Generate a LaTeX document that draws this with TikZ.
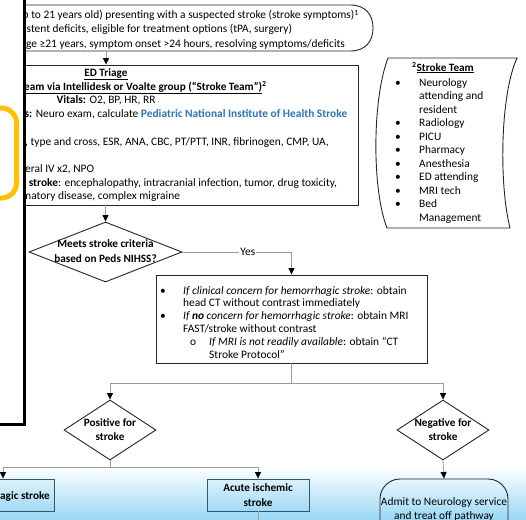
\documentclass[tikz,border=0pt]{standalone}
\usepackage{fontspec}
\setmainfont{Carlito}
\usetikzlibrary{arrows.meta,shapes.geometric,calc}

\definecolor{connector}{HTML}{9C9C9C}
\definecolor{edge}{HTML}{262626}
\definecolor{linkblue}{HTML}{2E75B6}
\definecolor{flagyellow}{HTML}{FFC000}
\definecolor{bandtop}{HTML}{FFFFFF}
\definecolor{bandbottom}{HTML}{9CD8F4}
\definecolor{outcomeedge}{HTML}{2B5A6E}
\definecolor{outcometop}{HTML}{DCF1FB}
\definecolor{outcomebottom}{HTML}{A3DAF4}

\begin{document}
\begin{tikzpicture}[x=1pt,y=-1pt,
  body/.style={inner sep=0pt, font=\fontsize{11.4}{13.7}\selectfont},
  bodybold/.style={body, font=\fontsize{11.2}{13.7}\selectfont\bfseries},
  procbox/.style={draw=edge, line width=0.9pt, fill=white, rectangle, inner sep=0pt},
  decision/.style={draw=edge, line width=0.9pt, fill=white, diamond, inner sep=0pt},
  outcome/.style={draw=outcomeedge, line width=0.9pt, rectangle, inner sep=0pt,
    top color=outcometop, bottom color=outcomebottom, align=center,
    font=\fontsize{11.2}{14.5}\selectfont\bfseries},
  link/.style={draw=connector, line width=0.8pt},
  arr/.style={link, -{Triangle[length=6.5pt,width=6pt,color=black]}},
]
\useasboundingbox (0,0) rectangle (526,519);

% light blue band along the bottom
\fill[top color=bandtop, bottom color=bandbottom] (0,466) rectangle (526,519);

% entry terminator (patient criteria)
\draw[edge, line width=0.9pt, fill=white]
  (-10,5) -- (350,5) .. controls (366,5) and (373,15) .. (373,28)
  .. controls (373,41) and (366,51) .. (350,51) -- (-10,51);
\coordinate (entryout) at (106,51);
\node[body, anchor=base west] (entry1) at (22.5,19)
  {p to 21 years old) presenting with a suspected stroke (stroke symptoms)\textsuperscript{1}};
\node[body, anchor=base west] (entry2) at (26.5,33)
  {stent deficits, eligible for treatment options (tPA, surgery)};
\node[body, anchor=base west] (entry3) at (26,47)
  {ge ≥21 years, symptom onset >24 hours, resolving symptoms/deficits};

% ED triage box
\node[procbox, minimum width=368pt, minimum height=140pt] (triage) at (174,135) {};
\node[bodybold, anchor=base] (tri1) at (106,76) {\underline{ED Triage}};
\node[bodybold, anchor=base west] (tri2) at (24,90)
  {\underline{eam via Intellidesk or Voalte group (“Stroke Team”)}\textsuperscript{2}};
\node[body, anchor=base] (tri3) at (106,103.5) {\textbf{Vitals:} O2, BP, HR, RR};
\node[body, anchor=base west] (tri4) at (24.5,117.5)
  {\textbf{s:} Neuro exam, calculate \textcolor{linkblue}{\textbf{Pediatric National Institute of Health Stroke}}};
\node[body, anchor=base west] (tri5) at (25,145)
  {, type and cross, ESR, ANA, CBC, PT/PTT, INR, fibrinogen, CMP, UA,};
\node[body, anchor=base west] (tri6) at (25,172) {eral IV x2, NPO};
\node[body, anchor=base west] (tri7) at (26,186)
  {\textbf{ stroke}: encephalopathy, intracranial infection, tumor, drug toxicity,};
\node[body, anchor=base west] (tri8) at (22,199.5) {matory disease, complex migraine};

% stroke criteria decision
\node[decision, minimum width=153pt, minimum height=60pt] (crit) at (105.5,252) {};
\node[bodybold, align=center, font=\fontsize{11.2}{14.5}\selectfont\bfseries] (crittext) at (105.5,251)
  {Meets stroke criteria\\based on Peds NIHSS?};

% imaging instructions
\node[procbox, minimum width=271pt, minimum height=88pt] (imaging) at (291.5,319) {};
\node[body, anchor=base west, align=left, font=\fontsize{11.4}{12.8}\selectfont] (imgtext) at (160,358)
  {\makebox[23pt][l]{\textbullet}\textit{If clinical concern for hemorrhagic stroke}: obtain\\
   \hspace*{23pt}head CT without contrast immediately\\
   \makebox[23pt][l]{\textbullet}\textit{If \textbf{no} concern for hemorrhagic stroke}: obtain MRI\\
   \hspace*{23pt}FAST/stroke without contrast\\
   \hspace*{30pt}\makebox[19pt][l]{o}\textit{If MRI is not readily available}: obtain “CT\\
   \hspace*{49pt}Stroke Protocol”};

% result decisions
\node[decision, minimum width=92pt, minimum height=60pt] (pos) at (110,430) {};
\node[bodybold, align=center, font=\fontsize{11.2}{14}\selectfont\bfseries] (postext) at (110,430)
  {Positive for\\stroke};
\node[decision, minimum width=92pt, minimum height=60pt] (neg) at (443,430) {};
\node[bodybold, align=center, font=\fontsize{11.2}{14}\selectfont\bfseries] (negtext) at (443,430)
  {Negative for\\stroke};

% outcomes
\node[outcome, minimum width=102pt, minimum height=32pt] (hem) at (3,495) {};
\node[bodybold, anchor=base east] (hemtext) at (50,499) {agic stroke};
\node[outcome, minimum width=102pt, minimum height=32pt] (acute) at (258,495)
  {Acute ischemic\\stroke};
\node[draw=edge, line width=0.9pt, rectangle, rounded corners=20pt,
  minimum width=128pt, minimum height=62pt, inner sep=0pt] (admit) at (444,510) {};
\node[body, align=center, font=\fontsize{11.4}{14}\selectfont] (admittext) at (444,509)
  {Admit to Neurology service\\and treat off pathway};

% stroke team (stored-data shape)
\draw[edge, line width=0.9pt, fill=white]
  (388,58) -- (517,58) .. controls (500,95) and (499,185) .. (510,228)
  -- (387,228) .. controls (372,190) and (372,100) .. (388,58) -- cycle;
\node[bodybold, anchor=base] (teamtitle) at (443,71)
  {\textsuperscript{2}\underline{Stroke Team}};
\node[body, anchor=base west, align=left, font=\fontsize{11.4}{13.5}\selectfont] (teamlist) at (395,221)
  {\makebox[24pt][l]{\textbullet}Neurology\\
   \hspace*{24pt}attending and\\
   \hspace*{24pt}resident\\
   \makebox[24pt][l]{\textbullet}Radiology\\
   \makebox[24pt][l]{\textbullet}PICU\\
   \makebox[24pt][l]{\textbullet}Pharmacy\\
   \makebox[24pt][l]{\textbullet}Anesthesia\\
   \makebox[24pt][l]{\textbullet}ED attending\\
   \makebox[24pt][l]{\textbullet}MRI tech\\
   \makebox[24pt][l]{\textbullet}Bed\\
   \hspace*{24pt}Management};

% connectors
\draw[arr] (entryout) -- (entryout |- triage.north);
\draw[arr] (crit.north |- triage.south) -- (crit.north);
\draw[arr] (crit.east) -| node[pos=0.3, fill=white, body, inner sep=1pt] (yes) {Yes} (imaging.north);
\draw[link] (imaging.south) -- ++(0,20) coordinate (split1);
\draw[arr] (split1) -| (pos.north);
\draw[arr] (split1) -| (neg.north);
\draw[link] (pos.south) -- ++(0,7) coordinate (split2);
\draw[arr] (split2) -| (hem.north);
\draw[arr] (split2) -| (acute.north);
\draw[arr] (neg.south) -- (admit.north);
\draw[link] (acute.south) -- ++(0,12) coordinate (acuteout);

% overlapping panel on the left with its highlight
\draw[black, line width=3pt, fill=white] (-10,-10) -- (24.5,-10) -- (24.5,424) -- (-10,424);
\draw[flagyellow, line width=5pt, rounded corners=15pt] (-20,108) rectangle (16.5,198);
\end{tikzpicture}
\end{document}
